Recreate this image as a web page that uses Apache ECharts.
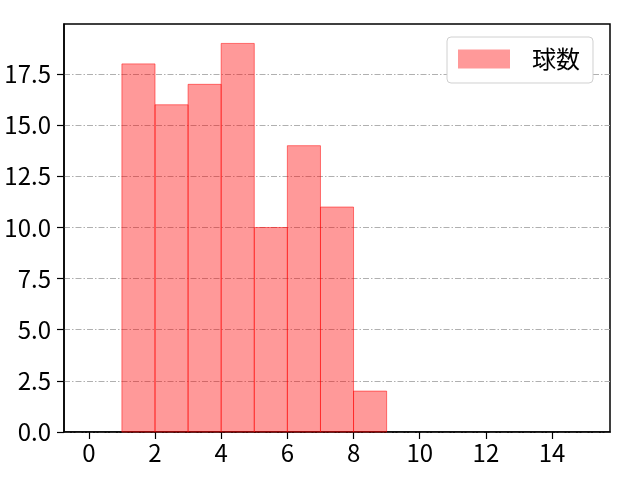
<!DOCTYPE html>
<html lang="ja">
<head>
    <meta charset="UTF-8">
    <script src="https://cdn.jsdelivr.net/npm/echarts@6/dist/echarts.min.js"></script>
    <title>球数</title>
</head>
<body style="margin:0">
    <div id="main" style="width:640px;height:480px"></div>
    <script>
        // histogram bins (left edge, right edge) and counts
        var binStart = [1, 2, 3, 4, 5, 6, 7, 8];
        var binEnd = [2, 3, 4, 5, 6, 7, 8, 9];
        var counts = [18, 16, 17, 19, 10, 14, 11, 2];
        var xTicks = [0, 2, 4, 6, 8, 10, 12, 14];
        var yTicks = [0, 2.5, 5, 7.5, 10, 12.5, 15, 17.5];
        var seriesName = '球数';

        var datas = [];
        for (var i = 0; i < counts.length; i++) {
            datas.push([binStart[i], binEnd[i], counts[i]]);
        }

        var font = '"Noto Sans CJK JP", "DejaVu Sans", sans-serif';
        var echart = echarts.init(document.getElementById('main'));
        var option = {
            animation: false,
            grid: {
                left: 64, right: 30, top: 24, bottom: 48,
                show: true, borderColor: '#000', borderWidth: 1.5
            },
            legend: {
                data: [{name: seriesName, icon: 'rect'}],
                left: 447, top: 37,
                itemWidth: 52, itemHeight: 19,
                padding: [10, 13, 12, 11],
                backgroundColor: '#fff',
                borderColor: '#d0d0d0', borderWidth: 1, borderRadius: 4,
                textStyle: {fontFamily: font, fontSize: 24, color: '#000', padding: [0, 0, 0, 17]}
            },
            xAxis: {
                type: 'value', min: -0.75, max: 15.75,
                splitLine: {show: false},
                axisLine: {show: true, onZero: false, lineStyle: {color: '#000', width: 1.5}},
                axisTick: {show: true, customValues: xTicks, length: 7, lineStyle: {color: '#000', width: 1.2}},
                axisLabel: {customValues: xTicks, fontFamily: font, fontSize: 24, color: '#000', margin: 9}
            },
            yAxis: {
                type: 'value', min: 0, max: 19.95,
                axisLine: {show: true, onZero: false, lineStyle: {color: '#000', width: 1.5}},
                axisTick: {show: true, customValues: yTicks, length: 7, lineStyle: {color: '#000', width: 1.2}},
                axisLabel: {
                    customValues: yTicks,
                    fontFamily: font, fontSize: 24, color: '#000', margin: 13,
                    formatter: function (v) { return v.toFixed(1); }
                },
                splitLine: {
                    show: true,
                    lineStyle: {color: '#b0b0b0', width: 1, type: [6, 2, 1.5, 2]}
                }
            },
            series: [{
                name: seriesName,
                type: 'custom',
                itemStyle: {color: 'rgba(255,0,0,0.4)', borderColor: 'rgba(255,0,0,0.5)'},
                renderItem: function (params, api) {
                    var p0 = api.coord([api.value(0), 0]);
                    var p1 = api.coord([api.value(1), api.value(2)]);
                    return {
                        type: 'rect',
                        shape: {x: p0[0], y: p1[1], width: p1[0] - p0[0], height: p0[1] - p1[1]},
                        style: {fill: 'rgba(255,0,0,0.4)', stroke: 'rgba(255,0,0,0.5)', lineWidth: 1}
                    };
                },
                encode: {x: [0, 1], y: 2},
                data: datas
            }]
        };
        echart.setOption(option);
    </script>
</body>
</html>
